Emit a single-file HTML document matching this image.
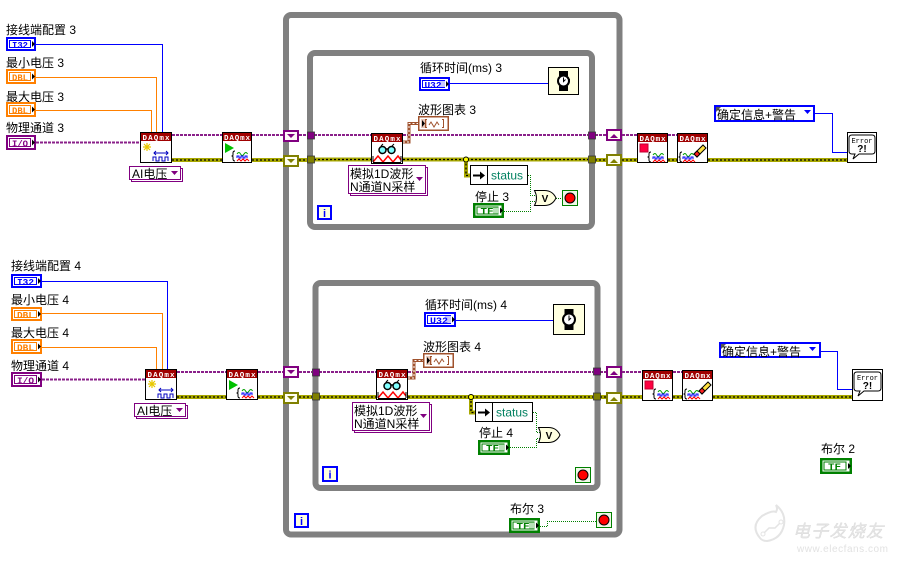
<!DOCTYPE html>
<html><head><meta charset="utf-8">
<style>
html,body{margin:0;padding:0;background:#fff;}
body{width:902px;height:563px;overflow:hidden;}
svg{display:block}
.lb{font-family:"Liberation Sans","Noto Sans CJK SC",sans-serif;font-size:12px;fill:#000}
.rt{font-family:"Liberation Sans","Noto Sans CJK SC",sans-serif;font-size:12px;fill:#000}
.dq{font-family:"Liberation Mono",monospace;font-size:7.5px;font-weight:bold;fill:#fff;text-anchor:middle}
.tm{font-family:"Liberation Mono",monospace;font-size:9.5px;font-weight:bold;text-anchor:middle}
.fr{fill:none;stroke:#808080;stroke-width:6}
.pw{fill:none;stroke:#8a208a;stroke-width:2;stroke-dasharray:3 1}
.yw{fill:none;stroke:#a8a800;stroke-width:4}
.yd{fill:none;stroke:#000;stroke-width:1.3;stroke-dasharray:2 2}
.bw{fill:none;stroke:#0000ff;stroke-width:1}
.ow{fill:none;stroke:#ff8000;stroke-width:1}
.gw{fill:none;stroke:#008000;stroke-width:1;stroke-dasharray:1 1}
.brw{fill:none;stroke:#a0522d;stroke-width:3}
.brd{fill:none;stroke:#fff;stroke-width:1;stroke-dasharray:2 2}
</style></head>
<body>
<svg width="902" height="563" viewBox="0 0 902 563" xmlns="http://www.w3.org/2000/svg">

<!-- watermark -->
<g>
<path d="M760 538 q-10 -12 2 -22 q10 -6 14 -4 q2 -3 0 -7 q10 8 8 20 q-3 14 -17 16 q-5 0 -7 -3z" fill="none" stroke="#e4e4e4" stroke-width="2"/>
<path d="M763 534 l6 -6 h6 l6 -6" stroke="#e4e4e4" stroke-width="1.5" fill="none"/>
<circle cx="763" cy="534" r="2" fill="#fff" stroke="#e4e4e4"/>
<circle cx="781" cy="522" r="2" fill="#fff" stroke="#e4e4e4"/>
<text x="793" y="537" font-family="'Noto Sans CJK SC',sans-serif" font-size="17" font-style="italic" fill="#e6e6e6" stroke="#d8d8d8" stroke-width="0.4" textLength="90">电子发烧友</text>
<text x="797" y="552" font-family="'Liberation Sans',sans-serif" font-size="10" fill="#e2e2e2" textLength="91">www.elecfans.com</text>
</g>

<!-- frames -->
<rect class="fr" x="286" y="15" width="333.5" height="519.5" rx="5"/>
<rect class="fr" x="310" y="53" width="282" height="174" rx="5"/>
<rect class="fr" x="315.5" y="283" width="282" height="205" rx="5"/>

<!-- ===== wires ===== -->
<path class="bw" d="M36 44.5H162.5V132"/>
<path class="bw" d="M42 281.5H167.5V369"/>
<path class="bw" d="M450 83.5H548"/>
<path class="bw" d="M456 320.5H553"/>
<path class="bw" d="M815 113.5H832.5V152.5H847"/>
<path class="bw" d="M821 351.5H837.5V389.5H852"/>
<path class="ow" d="M36 77.5H156.5V132"/>
<path class="ow" d="M36 110.5H151.5V132"/>
<path class="ow" d="M42 313.5H162.5V369"/>
<path class="ow" d="M42 347.5H156.5V369"/>
<path class="pw" d="M36 142.5H140"/>
<path class="pw" d="M172 135H222M252 135H283M299 135H307M314 135H371M403 135H588M595 135H606M622 135H637M668 135H677"/>
<path class="pw" d="M42 379.5H145"/>
<path class="pw" d="M177 372H226M258 372H283M299 372H312M319 372H376M408 372H593M600 372H606M622 372H642M673 372H682"/>
<g>
<path class="yw" d="M172 160H222M252 160H283M299 160H307M314 159.5H371M403 159.5H588M595 160H606M622 160H637M668 160H677M708 160H847"/>
<path class="yd" d="M172 160H222M252 160H283M299 160H307M314 159.5H371M403 159.5H588M595 160H606M622 160H637M668 160H677M708 160H847"/>
<path class="yw" d="M466 159.5V175.5H470"/>
<path class="yd" d="M466 159.5V175.5H470"/>
<path class="yw" d="M177 397H226M258 397H283M299 397H312M319 397H376M408 397H593M600 397H606M622 397H642M673 397H682M713 397H852"/>
<path class="yd" d="M177 397H226M258 397H283M299 397H312M319 397H376M408 397H593M600 397H606M622 397H642M673 397H682M713 397H852"/>
<path class="yw" d="M471 397V412.5H475"/>
<path class="yd" d="M471 397V412.5H475"/>
<circle cx="466" cy="159.5" r="2.5" fill="#ff0" stroke="#000"/>
<circle cx="471" cy="397" r="2.5" fill="#ff0" stroke="#000"/>
</g>
<path class="brw" d="M403 142H409V123.5H418"/>
<path class="brd" d="M403 142H409V123.5H418"/>
<path class="brw" d="M408 378H414V360.5H423"/>
<path class="brd" d="M408 378H414V360.5H423"/>
<path class="gw" d="M528 175.5H530.5V195.5H537"/>
<path class="gw" d="M504 211.5H530.5V201.5H537"/>
<path class="gw" d="M556 198.5H562"/>
<path class="gw" d="M533 412.5H536.5V432.5H541"/>
<path class="gw" d="M510 447.5H536.5V438.5H541"/>
<path class="gw" d="M540 526.5H547.5V521.5H596"/>

<!-- ===== tunnels ===== -->
<g stroke="#333" stroke-width="0.8">
<rect x="307.5" y="132" width="7" height="7" fill="#800080"/>
<rect x="307.5" y="156" width="7" height="7" fill="#808000"/>
<rect x="588.5" y="132" width="7" height="7" fill="#800080"/>
<rect x="588.5" y="156" width="7" height="7" fill="#808000"/>
<rect x="312.5" y="369" width="7" height="7" fill="#800080"/>
<rect x="312.5" y="393" width="7" height="7" fill="#808000"/>
<rect x="593.5" y="368" width="7" height="7" fill="#800080"/>
<rect x="593.5" y="393" width="7" height="7" fill="#808000"/>
</g>

<!-- ===== shift registers ===== -->
<g stroke-width="2">
<rect x="284" y="131" width="14" height="10" fill="#fff8f8" stroke="#800080"/>
<path d="M287 134h8l-4 4z" fill="#800080"/>
<rect x="284" y="156" width="14" height="10" fill="#fffff0" stroke="#808000"/>
<path d="M287 159h8l-4 4z" fill="#808000"/>
<rect x="284" y="367" width="14" height="10" fill="#fff8f8" stroke="#800080"/>
<path d="M287 370h8l-4 4z" fill="#800080"/>
<rect x="284" y="393" width="14" height="10" fill="#fffff0" stroke="#808000"/>
<path d="M287 396h8l-4 4z" fill="#808000"/>
<rect x="607" y="130" width="14" height="10" fill="#fffff0" stroke="#800080"/>
<path d="M610 138h8l-4 -4z" fill="#800080"/>
<rect x="607" y="155" width="14" height="10" fill="#fffff0" stroke="#808000"/>
<path d="M610 163h8l-4 -4z" fill="#808000"/>
<rect x="607" y="367" width="14" height="10" fill="#fffff0" stroke="#800080"/>
<path d="M610 375h8l-4 -4z" fill="#800080"/>
<rect x="607" y="393" width="14" height="10" fill="#fffff0" stroke="#808000"/>
<path d="M610 401h8l-4 -4z" fill="#808000"/>
</g>

<!-- ===== labels ===== -->
<text class="lb" x="6" y="34">接线端配置 3</text>
<text class="lb" x="6" y="67">最小电压 3</text>
<text class="lb" x="6" y="101">最大电压 3</text>
<text class="lb" x="6" y="132">物理通道 3</text>
<text class="lb" x="11" y="270">接线端配置 4</text>
<text class="lb" x="11" y="304">最小电压 4</text>
<text class="lb" x="11" y="337">最大电压 4</text>
<text class="lb" x="11" y="370">物理通道 4</text>
<text class="lb" x="420" y="72">循环时间(ms) 3</text>
<text class="lb" x="418" y="114">波形图表 3</text>
<text class="lb" x="475" y="201">停止 3</text>
<text class="lb" x="425" y="309">循环时间(ms) 4</text>
<text class="lb" x="423" y="351">波形图表 4</text>
<text class="lb" x="479" y="437">停止 4</text>
<text class="lb" x="510" y="513">布尔 3</text>
<text class="lb" x="821" y="453">布尔 2</text>

<!-- ===== control terminals ===== -->
<g transform="translate(6,37)">
<rect x="1" y="1" width="28" height="12" fill="#fff" stroke="#0000ff" stroke-width="2"/>
<rect x="3.5" y="3.5" width="21" height="7" fill="#fff" stroke="#0000ff"/>
<text class="tm" x="14" y="10.8" fill="#0000ff" textLength="16" lengthAdjust="spacingAndGlyphs">I32</text>
<path d="M26 4l3 3l-3 3z"/>
</g>
<g transform="translate(6,69)">
<rect x="1" y="1" width="28" height="13" fill="#fff" stroke="#ff8000" stroke-width="2"/>
<rect x="3.5" y="3.5" width="21" height="8" fill="#fff" stroke="#ff8000"/>
<text class="tm" x="14" y="11.3" fill="#ff8000" textLength="16" lengthAdjust="spacingAndGlyphs">DBL</text>
<path d="M26 4.5l3 3l-3 3z"/>
</g>
<g transform="translate(6,102)">
<rect x="1" y="1" width="28" height="13" fill="#fff" stroke="#ff8000" stroke-width="2"/>
<rect x="3.5" y="3.5" width="21" height="8" fill="#fff" stroke="#ff8000"/>
<text class="tm" x="14" y="11.3" fill="#ff8000" textLength="16" lengthAdjust="spacingAndGlyphs">DBL</text>
<path d="M26 4.5l3 3l-3 3z"/>
</g>
<g transform="translate(6,135)">
<rect x="1" y="1" width="28" height="13" fill="#fff" stroke="#800080" stroke-width="2"/>
<rect x="3.5" y="3.5" width="21" height="8" fill="#fff" stroke="#800080"/>
<text class="tm" x="14" y="11.3" fill="#800080" textLength="16" lengthAdjust="spacingAndGlyphs">I/O</text>
<path d="M26 4.5l3 3l-3 3z"/>
</g>
<g transform="translate(11,274)">
<rect x="1" y="1" width="29" height="12" fill="#fff" stroke="#0000ff" stroke-width="2"/>
<rect x="3.5" y="3.5" width="22" height="7" fill="#fff" stroke="#0000ff"/>
<text class="tm" x="14.5" y="10.8" fill="#0000ff" textLength="17" lengthAdjust="spacingAndGlyphs">I32</text>
<path d="M27 4l3 3l-3 3z"/>
</g>
<g transform="translate(11,307)">
<rect x="1" y="1" width="29" height="12" fill="#fff" stroke="#ff8000" stroke-width="2"/>
<rect x="3.5" y="3.5" width="22" height="7" fill="#fff" stroke="#ff8000"/>
<text class="tm" x="14.5" y="10.8" fill="#ff8000" textLength="17" lengthAdjust="spacingAndGlyphs">DBL</text>
<path d="M27 4l3 3l-3 3z"/>
</g>
<g transform="translate(11,339)">
<rect x="1" y="1" width="29" height="13" fill="#fff" stroke="#ff8000" stroke-width="2"/>
<rect x="3.5" y="3.5" width="22" height="8" fill="#fff" stroke="#ff8000"/>
<text class="tm" x="14.5" y="11.3" fill="#ff8000" textLength="17" lengthAdjust="spacingAndGlyphs">DBL</text>
<path d="M27 4.5l3 3l-3 3z"/>
</g>
<g transform="translate(11,372)">
<rect x="1" y="1" width="29" height="13" fill="#fff" stroke="#800080" stroke-width="2"/>
<rect x="3.5" y="3.5" width="22" height="8" fill="#fff" stroke="#800080"/>
<text class="tm" x="14.5" y="11.3" fill="#800080" textLength="17" lengthAdjust="spacingAndGlyphs">I/O</text>
<path d="M27 4.5l3 3l-3 3z"/>
</g>
<g transform="translate(419,77)">
<rect x="1" y="1" width="29" height="12" fill="#fff" stroke="#0000ff" stroke-width="2"/>
<rect x="3.5" y="3.5" width="22" height="7" fill="#fff" stroke="#0000ff"/>
<rect x="20" y="4" width="6" height="6" fill="#c8c8ff"/>
<text class="tm" x="14" y="10.8" fill="#0000ff" textLength="17" lengthAdjust="spacingAndGlyphs">U32</text>
<path d="M27 4l3 3l-3 3z"/>
</g>
<g transform="translate(424,312)">
<rect x="1" y="1" width="30" height="13" fill="#fff" stroke="#0000ff" stroke-width="2"/>
<rect x="3.5" y="3.5" width="23" height="8" fill="#fff" stroke="#0000ff"/>
<rect x="21" y="4" width="6" height="7" fill="#c8c8ff"/>
<text class="tm" x="15" y="11.3" fill="#0000ff" textLength="18" lengthAdjust="spacingAndGlyphs">U32</text>
<path d="M28 4.5l3 3l-3 3z"/>
</g>
<g transform="translate(473,203)">
<rect x="1.25" y="1.25" width="28.5" height="12.5" fill="#fff" stroke="#008000" stroke-width="2.5"/>
<rect x="4" y="4" width="21" height="7" fill="#fff" stroke="#008000"/>
<rect x="20" y="4.5" width="6" height="6" fill="#b8e0b8"/>
<text class="tm" x="14" y="11" fill="#008000" textLength="13" lengthAdjust="spacingAndGlyphs">TF</text>
<path d="M27 4.5l3 3l-3 3z"/>
</g>
<g transform="translate(478,440)">
<rect x="1.25" y="1.25" width="29.5" height="12.5" fill="#fff" stroke="#008000" stroke-width="2.5"/>
<rect x="4" y="4" width="22" height="7" fill="#fff" stroke="#008000"/>
<rect x="21" y="4.5" width="6" height="6" fill="#b8e0b8"/>
<text class="tm" x="14.5" y="11" fill="#008000" textLength="13" lengthAdjust="spacingAndGlyphs">TF</text>
<path d="M28 4.5l3 3l-3 3z"/>
</g>
<g transform="translate(509,518)">
<rect x="1.25" y="1.25" width="28.5" height="12.5" fill="#fff" stroke="#008000" stroke-width="2.5"/>
<rect x="4" y="4" width="21" height="7" fill="#fff" stroke="#008000"/>
<rect x="20" y="4.5" width="6" height="6" fill="#b8e0b8"/>
<text class="tm" x="14" y="11" fill="#008000" textLength="13" lengthAdjust="spacingAndGlyphs">TF</text>
<path d="M27 4.5l3 3l-3 3z"/>
</g>
<g transform="translate(820,458)">
<rect x="1.25" y="1.25" width="29.5" height="13.5" fill="#fff" stroke="#008000" stroke-width="2.5"/>
<rect x="4" y="4" width="22" height="8" fill="#fff" stroke="#008000"/>
<text class="tm" x="14.5" y="11.5" fill="#008000" textLength="13" lengthAdjust="spacingAndGlyphs">TF</text>
<path d="M28 5l3 3l-3 3z"/>
</g>

<!-- ===== DAQmx nodes ===== -->
<g transform="translate(140,132)">
<rect x="0.5" y="0.5" width="31" height="30" fill="#fff" stroke="#000"/>
<rect x="1" y="1" width="30" height="8" fill="#a00000"/>
<text class="dq" x="16" y="8" textLength="27">DAQmx</text>
<path d="M7 11v8M3 15h8M4 12l6 6M10 12l-6 6" stroke="#e8c800" stroke-width="1.2"/>
<path d="M14 21h14M16 19l-2 2l2 2M26 19l2 2l-2 2" stroke="#0000c0" fill="none"/>
<path d="M13 29v-4h3v4h3v-4h3v4h3v-4h3v4" stroke="#0000c0" fill="none"/>
</g>
<g transform="translate(145,369)">
<rect x="0.5" y="0.5" width="31" height="30" fill="#fff" stroke="#000"/>
<rect x="1" y="1" width="30" height="8" fill="#a00000"/>
<text class="dq" x="16" y="8" textLength="27">DAQmx</text>
<path d="M7 11v8M3 15h8M4 12l6 6M10 12l-6 6" stroke="#e8c800" stroke-width="1.2"/>
<path d="M14 21h14M16 19l-2 2l2 2M26 19l2 2l-2 2" stroke="#0000c0" fill="none"/>
<path d="M13 29v-4h3v4h3v-4h3v4h3v-4h3v4" stroke="#0000c0" fill="none"/>
</g>
<g transform="translate(222,132)">
<rect x="0.5" y="0.5" width="29" height="30" fill="#fff" stroke="#000"/>
<rect x="1" y="1" width="28" height="8" fill="#a00000"/>
<text class="dq" x="15" y="8" textLength="26">DAQmx</text>
<path d="M3 11l9 5l-9 5z" fill="#00c000"/>
<path d="M13 19q-2 0-2 2v2q0 1-1.5 1q1.5 0 1.5 1v2q0 2 2 2" stroke="#000" fill="none"/>
<path d="M15 22q2-3 3.5 0q2 3 3.5 0q2-3 3.5 0" stroke="#00a000" fill="none"/>
<path d="M15 26v-2h2v2h2v-2h2v2h2v-2h2v2" stroke="#0000ff" fill="none"/>
<path d="M15 29l2-2l2 2l2-2l2 2l2-2l2 2" stroke="#ff0000" fill="none"/>
</g>
<g transform="translate(226,369)">
<rect x="0.5" y="0.5" width="31" height="30" fill="#fff" stroke="#000"/>
<rect x="1" y="1" width="30" height="8" fill="#a00000"/>
<text class="dq" x="16" y="8" textLength="27">DAQmx</text>
<path d="M3 11l9 5l-9 5z" fill="#00c000"/>
<path d="M14 19q-2 0-2 2v2q0 1-1.5 1q1.5 0 1.5 1v2q0 2 2 2" stroke="#000" fill="none"/>
<path d="M16 22q2-3 3.5 0q2 3 3.5 0q2-3 3.5 0" stroke="#00a000" fill="none"/>
<path d="M16 26v-2h2v2h2v-2h2v2h2v-2h2v2" stroke="#0000ff" fill="none"/>
<path d="M16 29l2-2l2 2l2-2l2 2l2-2l2 2" stroke="#ff0000" fill="none"/>
</g>
<g transform="translate(371,133)">
<rect x="0.5" y="0.5" width="31" height="30" fill="#fff" stroke="#000"/>
<rect x="1" y="1" width="30" height="8" fill="#a00000"/>
<text class="dq" x="16" y="8" textLength="27">DAQmx</text>
<path d="M10 13l2-2M21 13l2-2" stroke="#000"/>
<circle cx="11.5" cy="17" r="3.5" fill="#80ffff" stroke="#000" stroke-width="1.5"/>
<circle cx="20.5" cy="17" r="3.5" fill="#80ffff" stroke="#000" stroke-width="1.5"/>
<path d="M15 16h2" stroke="#000" stroke-width="1.5"/>
<path d="M2 29l5-6l5 6l5-6l5 6l5-6l3 4" stroke="#ff0000" fill="none" stroke-width="1.5"/>
<path d="M2 29.5h28M2 23v6M30 23v6" stroke="#000"/>
</g>
<g transform="translate(376,369)">
<rect x="0.5" y="0.5" width="31" height="30" fill="#fff" stroke="#000"/>
<rect x="1" y="1" width="30" height="8" fill="#a00000"/>
<text class="dq" x="16" y="8" textLength="27">DAQmx</text>
<path d="M10 13l2-2M21 13l2-2" stroke="#000"/>
<circle cx="11.5" cy="17" r="3.5" fill="#80ffff" stroke="#000" stroke-width="1.5"/>
<circle cx="20.5" cy="17" r="3.5" fill="#80ffff" stroke="#000" stroke-width="1.5"/>
<path d="M15 16h2" stroke="#000" stroke-width="1.5"/>
<path d="M2 29l5-6l5 6l5-6l5 6l5-6l3 4" stroke="#ff0000" fill="none" stroke-width="1.5"/>
<path d="M2 29.5h28M2 23v6M30 23v6" stroke="#000"/>
</g>
<g transform="translate(637,133)">
<rect x="0.5" y="0.5" width="30" height="29" fill="#fff" stroke="#000"/>
<rect x="1" y="1" width="29" height="8" fill="#a00000"/>
<text class="dq" x="15.5" y="8" textLength="26">DAQmx</text>
<rect x="3" y="11" width="8" height="8" fill="#ff0040" stroke="#c00030"/>
<path d="M14 19q-2 0-2 2v2q0 1-1.5 1q1.5 0 1.5 1v2q0 2 2 2" stroke="#000" fill="none"/>
<path d="M16 22q2-3 3.5 0q2 3 3.5 0q2-3 3.5 0" stroke="#00a000" fill="none"/>
<path d="M16 26v-2h2v2h2v-2h2v2h2v-2h2v2" stroke="#0000ff" fill="none"/>
<path d="M16 29l2-2l2 2l2-2l2 2l2-2l2 2" stroke="#ff0000" fill="none"/>
</g>
<g transform="translate(642,370)">
<rect x="0.5" y="0.5" width="30" height="30" fill="#fff" stroke="#000"/>
<rect x="1" y="1" width="29" height="8" fill="#a00000"/>
<text class="dq" x="15.5" y="8" textLength="26">DAQmx</text>
<rect x="3" y="11" width="8" height="8" fill="#ff0040" stroke="#c00030"/>
<path d="M14 19q-2 0-2 2v2q0 1-1.5 1q1.5 0 1.5 1v2q0 2 2 2" stroke="#000" fill="none"/>
<path d="M16 22q2-3 3.5 0q2 3 3.5 0q2-3 3.5 0" stroke="#00a000" fill="none"/>
<path d="M16 26v-2h2v2h2v-2h2v2h2v-2h2v2" stroke="#0000ff" fill="none"/>
<path d="M16 29l2-2l2 2l2-2l2 2l2-2l2 2" stroke="#ff0000" fill="none"/>
</g>
<g transform="translate(677,133)">
<rect x="0.5" y="0.5" width="30" height="29" fill="#fff" stroke="#000"/>
<rect x="1" y="1" width="29" height="8" fill="#a00000"/>
<text class="dq" x="15.5" y="8" textLength="26">DAQmx</text>
<path d="M17 21l9-9l3 3l-9 9z" fill="#ffe040" stroke="#000"/>
<path d="M17 21l3-3l3 3l-3 3z" fill="#ff2020" stroke="#000"/>
<path d="M5 19q-2 0-2 2v2q0 1-1.5 1q1.5 0 1.5 1v2q0 2 2 2" stroke="#000" fill="none"/>
<path d="M6 22q2-3 3.5 0q2 3 3.5 0q2-3 3.5 0" stroke="#00a000" fill="none"/>
<path d="M6 26v-2h2v2h2v-2h2v2h2v-2h2v2" stroke="#0000ff" fill="none"/>
<path d="M6 29l2-2l2 2l2-2l2 2l2-2l2 2" stroke="#ff0000" fill="none"/>
</g>
<g transform="translate(682,370)">
<rect x="0.5" y="0.5" width="30" height="30" fill="#fff" stroke="#000"/>
<rect x="1" y="1" width="29" height="8" fill="#a00000"/>
<text class="dq" x="15.5" y="8" textLength="26">DAQmx</text>
<path d="M17 21l9-9l3 3l-9 9z" fill="#ffe040" stroke="#000"/>
<path d="M17 21l3-3l3 3l-3 3z" fill="#ff2020" stroke="#000"/>
<path d="M5 19q-2 0-2 2v2q0 1-1.5 1q1.5 0 1.5 1v2q0 2 2 2" stroke="#000" fill="none"/>
<path d="M6 22q2-3 3.5 0q2 3 3.5 0q2-3 3.5 0" stroke="#00a000" fill="none"/>
<path d="M6 26v-2h2v2h2v-2h2v2h2v-2h2v2" stroke="#0000ff" fill="none"/>
<path d="M6 29l2-2l2 2l2-2l2 2l2-2l2 2" stroke="#ff0000" fill="none"/>
</g>

<!-- ===== rings ===== -->
<g>
<rect x="131.5" y="168.5" width="51" height="13" fill="#fff" stroke="#800080"/>
<rect x="129.5" y="166.5" width="51" height="13" fill="#fff" stroke="#800080"/>
<text class="rt" x="132" y="178" font-size="13">AI电压</text>
<path d="M171 171h7l-3.5 4z" fill="#800080"/>

<rect x="136.5" y="405.5" width="51" height="13" fill="#fff" stroke="#800080"/>
<rect x="134.5" y="403.5" width="51" height="13" fill="#fff" stroke="#800080"/>
<text class="rt" x="137" y="415" font-size="13">AI电压</text>
<path d="M176 408h7l-3.5 4z" fill="#800080"/>

<rect x="350.5" y="167.5" width="77" height="28" fill="#fff" stroke="#800080"/>
<rect x="348.5" y="165.5" width="77" height="28" fill="#fff" stroke="#800080"/>
<text class="rt" x="350" y="178">模拟1D波形</text>
<text class="rt" x="350" y="191">N通道N采样</text>
<path d="M416 177h7l-3.5 4z" fill="#800080"/>

<rect x="354.5" y="404.5" width="77" height="28" fill="#fff" stroke="#800080"/>
<rect x="352.5" y="402.5" width="77" height="28" fill="#fff" stroke="#800080"/>
<text class="rt" x="354" y="415">模拟1D波形</text>
<text class="rt" x="354" y="428">N通道N采样</text>
<path d="M420 414h7l-3.5 4z" fill="#800080"/>

<rect x="715" y="106" width="99" height="15" fill="#fff" stroke="#0000ff" stroke-width="2"/>
<path d="M716 107h5l-5 5z" fill="#555"/>
<text class="rt" x="717" y="119" font-size="13">确定信息+警告</text>
<path d="M804 110h7l-3.5 4z" fill="#0000ff"/>

<rect x="720" y="343" width="100" height="14" fill="#fff" stroke="#0000ff" stroke-width="2"/>
<path d="M721 344h5l-5 5z" fill="#555"/>
<text class="rt" x="722" y="356" font-size="13">确定信息+警告</text>
<path d="M809 347h7l-3.5 4z" fill="#0000ff"/>
</g>

<!-- ===== chart terminals ===== -->
<g transform="translate(418,116)">
<rect x="0.75" y="0.75" width="29.5" height="13.5" fill="#fff" stroke="#a0522d" stroke-width="1.5"/>
<rect x="3" y="3" width="6" height="9" fill="#e8c8b8"/>
<path d="M4 4l3 3.5l-3 3.5z" fill="#000"/>
<path d="M9 3.5h-1.5v8h1.5M24 3.5h1.5v8h-1.5" stroke="#a0522d" fill="none"/>
<path d="M11 9l2-3l3 5l3-5l2 3" stroke="#a0522d" fill="none"/>
</g>
<g transform="translate(423,353)">
<rect x="0.75" y="0.75" width="29.5" height="13.5" fill="#fff" stroke="#a0522d" stroke-width="1.5"/>
<rect x="3" y="3" width="6" height="9" fill="#e8c8b8"/>
<path d="M4 4l3 3.5l-3 3.5z" fill="#000"/>
<path d="M9 3.5h-1.5v8h1.5M24 3.5h1.5v8h-1.5" stroke="#a0522d" fill="none"/>
<path d="M11 9l2-3l3 5l3-5l2 3" stroke="#a0522d" fill="none"/>
</g>

<!-- ===== wait nodes ===== -->
<g transform="translate(548,67)">
<rect x="0.5" y="0.5" width="30" height="27" fill="#ffffe0" stroke="#000"/>
<rect x="11" y="4" width="9" height="5" fill="#000"/>
<rect x="11" y="19" width="9" height="5" fill="#000"/>
<rect x="20" y="12" width="2" height="3" fill="#000"/>
<circle cx="15.5" cy="14" r="5.5" fill="#fff" stroke="#000" stroke-width="2"/>
<path d="M15.5 10.5v4l2-2" stroke="#000" fill="none"/>
</g>
<g transform="translate(553,304)">
<rect x="0.5" y="0.5" width="31" height="30" fill="#ffffe0" stroke="#000"/>
<rect x="11.5" y="5" width="9" height="5" fill="#000"/>
<rect x="11.5" y="21" width="9" height="5" fill="#000"/>
<rect x="20.5" y="14" width="2" height="3" fill="#000"/>
<circle cx="16" cy="15.5" r="6" fill="#fff" stroke="#000" stroke-width="2"/>
<path d="M16 11.5v4.5l2-2" stroke="#000" fill="none"/>
</g>

<!-- ===== error handlers ===== -->
<g transform="translate(847,132)">
<rect x="0.5" y="0.5" width="29" height="30" fill="#fff" stroke="#000"/>
<path d="M5 3h20q3 0 3 3v13q0 3-3 3h-13l-6 5l2-5h-3q-3 0-3-3v-13q0-3 3-3z" fill="#fff" stroke="#000"/>
<text x="15" y="11" font-family="'Liberation Mono',monospace" font-size="7" text-anchor="middle">Error</text>
<text x="15" y="20" font-family="'Liberation Sans',sans-serif" font-size="10" font-weight="bold" text-anchor="middle">?!</text>
</g>
<g transform="translate(852,369)">
<rect x="0.5" y="0.5" width="30" height="31" fill="#fff" stroke="#000"/>
<path d="M5 3h21q3 0 3 3v13q0 3-3 3h-14l-6 5l2-5h-3q-3 0-3-3v-13q0-3 3-3z" fill="#fff" stroke="#000"/>
<text x="15.5" y="11" font-family="'Liberation Mono',monospace" font-size="7" text-anchor="middle">Error</text>
<text x="15.5" y="20" font-family="'Liberation Sans',sans-serif" font-size="10" font-weight="bold" text-anchor="middle">?!</text>
</g>

<!-- ===== status unbundle ===== -->
<g transform="translate(470,165)">
<rect x="0.5" y="0.5" width="57" height="19" fill="#fff" stroke="#000"/>
<path d="M17.5 0.5v19" stroke="#000"/>
<path d="M3 10.5h8" stroke="#000" stroke-width="2"/>
<path d="M10 6.5l5 4l-5 4z" fill="#000"/>
<text x="21" y="14.5" font-family="'Liberation Sans',sans-serif" font-size="12" fill="#008060">status</text>
</g>
<g transform="translate(475,402)">
<rect x="0.5" y="0.5" width="57" height="19" fill="#fff" stroke="#000"/>
<path d="M17.5 0.5v19" stroke="#000"/>
<path d="M3 10.5h8" stroke="#000" stroke-width="2"/>
<path d="M10 6.5l5 4l-5 4z" fill="#000"/>
<text x="21" y="14.5" font-family="'Liberation Sans',sans-serif" font-size="12" fill="#008060">status</text>
</g>

<!-- ===== OR gates ===== -->
<g transform="translate(534,190)">
<path d="M0.5 0.5h10q8 0 11.5 7.5q-3.5 7.5-11.5 7.5h-10q4-7.5 0-15z" fill="#ffffe0" stroke="#000"/>
<text x="11" y="12" font-family="'Liberation Sans',sans-serif" font-size="10" font-weight="bold" text-anchor="middle">V</text>
</g>
<g transform="translate(538,427)">
<path d="M0.5 0.5h10q8 0 11.5 7.5q-3.5 7.5-11.5 7.5h-10q4-7.5 0-15z" fill="#ffffe0" stroke="#000"/>
<text x="11" y="12" font-family="'Liberation Sans',sans-serif" font-size="10" font-weight="bold" text-anchor="middle">V</text>
</g>

<!-- ===== stop terminals ===== -->
<g transform="translate(562,190)">
<rect x="0.5" y="0.5" width="15" height="15" fill="#f0f8e8" stroke="#008000"/>
<circle cx="8" cy="8" r="5" fill="#ff0000" stroke="#000"/>
</g>
<g transform="translate(575,467)">
<rect x="0.5" y="0.5" width="15" height="15" fill="#f0f8e8" stroke="#008000"/>
<circle cx="8" cy="8" r="5" fill="#ff0000" stroke="#000"/>
</g>
<g transform="translate(596,512)">
<rect x="0.5" y="0.5" width="15" height="15" fill="#f0f8e8" stroke="#008000"/>
<circle cx="8" cy="8" r="5" fill="#ff0000" stroke="#000"/>
</g>

<!-- ===== iteration terminals ===== -->
<g transform="translate(317,205)">
<rect x="1" y="1" width="13" height="13" fill="#ffffe0" stroke="#0000ff" stroke-width="2"/>
<text x="7.5" y="12" font-family="'Liberation Sans',sans-serif" font-size="11" font-weight="bold" fill="#0000ff" text-anchor="middle">i</text>
</g>
<g transform="translate(322,466)">
<rect x="1" y="1" width="14" height="14" fill="#ffffe0" stroke="#0000ff" stroke-width="2"/>
<text x="8" y="12.5" font-family="'Liberation Sans',sans-serif" font-size="11" font-weight="bold" fill="#0000ff" text-anchor="middle">i</text>
</g>
<g transform="translate(294,513)">
<rect x="1" y="1" width="13" height="13" fill="#ffffe0" stroke="#0000ff" stroke-width="2"/>
<text x="7.5" y="12" font-family="'Liberation Sans',sans-serif" font-size="11" font-weight="bold" fill="#0000ff" text-anchor="middle">i</text>
</g>

</svg>
</body></html>
